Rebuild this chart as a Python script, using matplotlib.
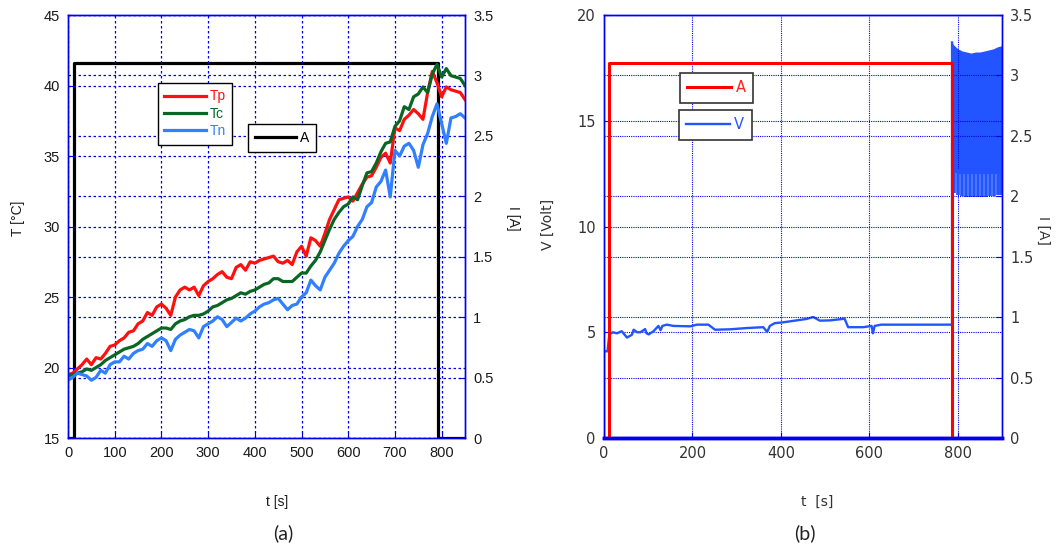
import matplotlib
matplotlib.use('Agg')
import matplotlib.pyplot as plt

# ---- panel (a): temperatures (left axis) and current (right axis)
t_temp = list(range(0, 851, 10))
tp = [19.5, 19.6, 19.9, 20.2, 20.6, 20.2, 20.7, 20.6, 21.0, 21.5,
      21.6, 21.9, 22.1, 22.5, 22.6, 23.1, 23.3, 23.9, 23.7, 24.3,
      24.5, 24.2, 23.7, 25.0, 25.5, 25.7, 25.5, 25.7, 25.1, 25.8,
      26.1, 26.3, 26.6, 26.8, 26.4, 26.3, 27.1, 27.3, 26.9, 27.5,
      27.4, 27.6, 27.7, 27.8, 27.9, 27.5, 27.4, 27.6, 27.3, 28.2,
      28.6, 27.9, 29.2, 29.0, 28.6, 29.5, 30.5, 31.2, 31.9, 32.0,
      32.1, 31.8, 32.4, 33.0, 33.5, 33.6, 34.2, 34.9, 35.2, 34.5,
      37.0, 36.8, 37.6, 37.9, 38.3, 38.0, 37.6, 39.5, 41.0, 40.2,
      39.2, 39.9, 39.7, 39.6, 39.5, 39.0]
tc = [19.4, 19.5, 19.6, 19.7, 19.9, 19.8, 20.0, 20.2, 20.5, 20.7,
      20.9, 21.1, 21.3, 21.4, 21.5, 21.7, 22.0, 22.2, 22.4, 22.6,
      22.8, 22.8, 22.7, 23.1, 23.3, 23.4, 23.6, 23.7, 23.7, 23.8,
      24.0, 24.3, 24.4, 24.6, 24.8, 24.9, 25.1, 25.3, 25.2, 25.4,
      25.5, 25.7, 25.9, 26.0, 26.3, 26.3, 26.1, 26.1, 26.1, 26.4,
      26.7, 26.7, 27.2, 27.6, 28.2, 29.0, 29.8, 30.5, 31.0, 31.4,
      31.6, 32.1, 31.9, 32.9, 33.8, 33.9, 34.5, 35.3, 35.9, 36.0,
      37.1, 37.5, 38.5, 38.3, 39.2, 39.4, 39.9, 39.5, 40.8, 41.5,
      40.6, 41.2, 40.7, 40.6, 40.5, 40.0]
tn = [19.1, 19.3, 19.6, 19.5, 19.4, 19.1, 19.3, 19.8, 19.6, 20.2,
      20.4, 20.4, 20.8, 20.6, 21.0, 21.2, 21.3, 21.7, 21.5, 21.9,
      22.1, 21.9, 21.2, 22.0, 22.3, 22.5, 22.7, 22.6, 22.1, 22.9,
      23.1, 23.3, 23.6, 23.4, 22.9, 23.2, 23.5, 23.3, 23.5, 23.8,
      24.0, 24.3, 24.5, 24.6, 24.8, 24.9, 24.5, 24.1, 24.4, 24.5,
      25.0, 25.3, 26.2, 25.8, 25.5, 26.4, 26.9, 27.4, 28.1, 28.6,
      29.0, 29.3, 30.0, 30.5, 31.4, 31.7, 32.8, 33.2, 34.0, 32.1,
      35.4, 35.0, 35.7, 35.9, 35.4, 34.2, 35.8, 36.6, 37.8, 38.7,
      37.3, 35.9, 37.7, 37.8, 38.0, 37.7]
a_t_left = [0, 12, 12, 793, 793, 850]
a_left = [0, 0, 3.1, 3.1, 0, 0]

# ---- panel (b): voltage (left axis) and current (right axis)
v_t = [0, 0, 8, 12, 20, 29, 40, 52, 63, 67,
       75, 82, 93, 96, 101, 112, 123, 128, 132, 142,
       157, 195, 210, 236, 251, 285, 323, 360, 369, 375,
       386, 405, 435, 458, 473, 488, 510, 544, 552, 586,
       605, 608, 612, 627, 787, 787]
v = [0, 4.1, 4.1, 4.9, 5.0, 4.95, 5.05, 4.75, 4.88, 5.12,
     5.0, 5.0, 5.15, 4.95, 4.9, 5.05, 5.3, 5.1, 5.3, 5.36,
     5.3, 5.28, 5.36, 5.36, 5.12, 5.14, 5.2, 5.24, 5.02, 5.3,
     5.43, 5.47, 5.56, 5.63, 5.72, 5.55, 5.56, 5.64, 5.24, 5.24,
     5.3, 4.95, 5.3, 5.36, 5.36, 18.7]
osc_t = [787, 790, 800, 810, 820, 830, 840, 850, 860, 870, 880, 890, 900]
osc_top = [18.7, 18.6, 18.4, 18.3, 18.25, 18.2, 18.25, 18.25, 18.3, 18.35, 18.4, 18.5, 18.55]
osc_low = [12.6, 12.6, 12.5, 12.5, 12.5, 12.5, 12.5, 12.5, 12.5, 12.5, 12.5, 12.5, 12.5]
dip_t = [791, 800, 809, 818, 827, 836, 845, 854, 863, 872, 881, 890, 898]
dip_v = [11.6, 11.5, 11.45, 11.4, 11.4, 11.4, 11.4, 11.4, 11.4, 11.45, 11.45, 11.5, 11.5]
a_t_right = [0, 11, 11, 787, 787, 900]
a_right = [0, 0, 3.1, 3.1, 0, 0]

BLUE = '#0000ee'

fig = plt.figure(figsize=(10.58, 5.48), dpi=100)


def style_axes(ax, tick_col, font, size):
    for s in ax.spines.values():
        s.set_color(BLUE)
        s.set_linewidth(1.0)
    ax.tick_params(direction='in', color=BLUE, length=4, labelcolor=tick_col, labelsize=size, pad=6)
    for lab in ax.get_xticklabels() + ax.get_yticklabels():
        lab.set_fontfamily(font)


# ------------------------------------------------------------------ (a)
ax1 = fig.add_axes([0.0643, 0.2007, 0.3752, 0.7719])
ax2 = ax1.twinx()
ax1.set_zorder(ax2.get_zorder() + 1)
ax1.patch.set_visible(False)

l_tp, = ax1.plot(t_temp, tp, color='#ff1010', lw=2.3)
l_tc, = ax1.plot(t_temp, tc, color='#0b6623', lw=2.3)
l_tn, = ax1.plot(t_temp, tn, color='#3080ff', lw=2.3)
l_a, = ax2.plot(a_t_left, a_left, color='black', lw=2.3)

ax1.set_xlim(0, 850)
ax1.set_ylim(15, 45)
ax2.set_ylim(0, 3.5)
ax1.set_xticks(range(0, 801, 100))
ax1.set_yticks(range(15, 46, 5))
ax2.set_yticks([0, 0.5, 1, 1.5, 2, 2.5, 3, 3.5])
ax2.set_yticklabels(['0', '0.5', '1', '1.5', '2', '2.5', '3', '3.5'])
gkw = dict(color=BLUE, linestyle=(0, (2, 2)), linewidth=0.9)
ax1.grid(True, **gkw)
ax2.grid(True, axis='y', **gkw)
style_axes(ax1, '#1a1a1a', 'Liberation Sans', 10.5)
style_axes(ax2, '#1a1a1a', 'Liberation Sans', 10.5)

legkw = dict(loc='upper left', borderaxespad=0, fancybox=False, framealpha=1,
             edgecolor='black', handlelength=3, handletextpad=0.25,
             prop={'family': 'Liberation Sans', 'size': 10})
leg1 = ax1.legend([l_tp, l_tc, l_tn], ['Tp', 'Tc', 'Tn'], bbox_to_anchor=(0.227, 0.839),
                  labelspacing=0.25, borderpad=0.45, **legkw)
for txt, col in zip(leg1.get_texts(), ['#ff1010', '#0b6623', '#3080ff']):
    txt.set_color(col)
leg1.get_frame().set_linewidth(1.0)
ax1.add_artist(leg1)
leg2 = ax1.legend([l_a], ['A'], bbox_to_anchor=(0.453, 0.742), borderpad=0.5, **legkw)
leg2.get_frame().set_linewidth(1.0)

fig.text(18 / 1058, 1 - 218 / 548, 'T [°C]', rotation=90, ha='center', va='center',
         family='Liberation Sans', fontsize=10, color='#1a1a1a')
fig.text(513 / 1058, 1 - 218 / 548, 'I [A]', rotation=-90, ha='center', va='center',
         family='Liberation Sans', fontsize=10, color='#1a1a1a')
fig.text(277 / 1058, 1 - 502 / 548, 't [s]', ha='center', va='center',
         family='Liberation Sans', fontsize=10, color='#1a1a1a')
fig.text(283 / 1058, 1 - 533 / 548, '(a)', ha='center', va='center',
         family='Lato', fontsize=14, color='#222222')

# ------------------------------------------------------------------ (b)
bx1 = fig.add_axes([0.5709, 0.2007, 0.3762, 0.7719])
bx2 = bx1.twinx()

l_v, = bx1.plot(v_t, v, color='#2255ff', lw=1.7)
bx1.fill_between(osc_t, osc_low, osc_top, color='#2255ff', lw=0)
bx1.vlines(dip_t, dip_v, [12.7] * len(dip_t), color='#2255ff', lw=2.6)
l_ar, = bx2.plot(a_t_right, a_right, color='#ff0000', lw=2.2)

bx1.set_xlim(0, 900)
bx1.set_ylim(0, 20)
bx2.set_ylim(0, 3.5)
bx1.set_xticks(range(0, 801, 200))
bx1.set_yticks(range(0, 21, 5))
bx2.set_yticks([0, 0.5, 1, 1.5, 2, 2.5, 3, 3.5])
bx2.set_yticklabels(['0', '0.5', '1', '1.5', '2', '2.5', '3', '3.5'])
gkw2 = dict(color=BLUE, linestyle=(0, (1, 1)), linewidth=0.8)
bx1.grid(True, **gkw2)
bx2.grid(True, axis='y', **gkw2)
style_axes(bx1, '#333333', 'DejaVu Sans', 10.5)
style_axes(bx2, '#333333', 'DejaVu Sans', 10.5)
bx1.spines['bottom'].set_linewidth(2.5)
bx2.spines['bottom'].set_linewidth(2.5)

legkw2 = dict(loc='upper left', borderaxespad=0, fancybox=False, framealpha=1,
              edgecolor='#333333', handlelength=3, handletextpad=0.3, borderpad=0.5,
              prop={'family': 'DejaVu Sans', 'size': 10.5})
leg3 = bx2.legend([l_ar], ['A'], bbox_to_anchor=(0.191, 0.863), **legkw2)
leg3.get_texts()[0].set_color('#ff2020')
leg3.get_frame().set_linewidth(1.2)
bx2.add_artist(leg3)
leg4 = bx2.legend([l_v], ['V'], bbox_to_anchor=(0.188, 0.775), **legkw2)
leg4.get_texts()[0].set_color('#2255ff')
leg4.get_frame().set_linewidth(1.2)

fig.text(548 / 1058, 1 - 224 / 548, 'V [Volt]', rotation=90, ha='center', va='center',
         family='DejaVu Sans', fontsize=10, color='#333333')
fig.text(1043 / 1058, 1 - 230 / 548, 'I [A]', rotation=-90, ha='center', va='center',
         family='DejaVu Sans', fontsize=10, color='#333333')
fig.text(817 / 1058, 1 - 502 / 548, 't  [s]', ha='center', va='center',
         family='DejaVu Sans', fontsize=10, color='#333333')
fig.text(805 / 1058, 1 - 533 / 548, '(b)', ha='center', va='center',
         family='Lato', fontsize=14, color='#222222')

fig.savefig('out.png', dpi=100)
